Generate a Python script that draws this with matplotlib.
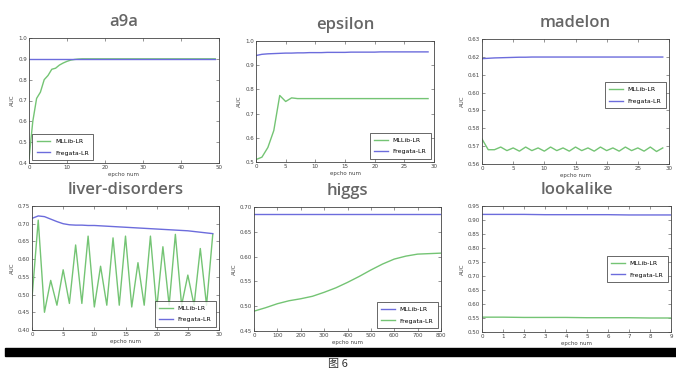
import numpy as np
import matplotlib.pyplot as plt

plt.rcParams['font.family'] = ['DejaVu Sans']

GREEN = '#74c474'
BLUE = '#6c6cdc'

# a9a
a9a_x = list(range(50))
a9a_mllib = [0.42, 0.60, 0.71, 0.74, 0.80, 0.82, 0.85, 0.855, 0.87, 0.88,
             0.888, 0.894, 0.897, 0.899] + [0.90] * 36
a9a_fregata = [0.90] * 50

# epsilon
eps_x = list(range(30))
eps_mllib = [0.51, 0.52, 0.56, 0.63, 0.775, 0.75, 0.765, 0.762] + [0.762] * 22
eps_fregata = [0.940, 0.945, 0.947, 0.948, 0.949, 0.950, 0.950, 0.951, 0.951, 0.952,
               0.952, 0.952, 0.953, 0.953, 0.953, 0.953, 0.954, 0.954, 0.954, 0.954,
               0.954, 0.955, 0.955, 0.955, 0.955, 0.955, 0.955, 0.955, 0.955, 0.955]

# madelon
mad_x = list(range(30))
mad_mllib = [0.574, 0.568, 0.568, 0.5695, 0.5675, 0.569, 0.5672, 0.5695, 0.5675, 0.569,
             0.5672, 0.5695, 0.5675, 0.569, 0.5672, 0.5695, 0.5675, 0.569, 0.5672, 0.5695,
             0.5675, 0.569, 0.5672, 0.5695, 0.5675, 0.569, 0.5672, 0.5695, 0.567, 0.569]
mad_fregata = [0.619, 0.6192, 0.6194, 0.6195, 0.6196, 0.6197, 0.6198, 0.6198, 0.6199, 0.6199] + [0.6199] * 20

# liver-disorders
liv_x = list(range(30))
liv_mllib = [0.49, 0.71, 0.45, 0.54, 0.47, 0.57, 0.475, 0.64, 0.475, 0.665,
             0.465, 0.58, 0.47, 0.66, 0.47, 0.665, 0.465, 0.59, 0.47, 0.665,
             0.46, 0.635, 0.47, 0.67, 0.47, 0.555, 0.47, 0.63, 0.47, 0.67]
liv_fregata = [0.715, 0.722, 0.72, 0.713, 0.706, 0.70, 0.697, 0.696, 0.696, 0.695,
               0.695, 0.694, 0.693, 0.692, 0.691, 0.690, 0.689, 0.688, 0.687, 0.686,
               0.685, 0.684, 0.683, 0.682, 0.681, 0.680, 0.678, 0.676, 0.674, 0.672]

# higgs
hig_x = list(range(0, 801, 50))
hig_mllib = [0.685] * len(hig_x)
hig_fregata = [0.49, 0.497, 0.505, 0.511, 0.515, 0.520, 0.528, 0.537, 0.548,
               0.560, 0.573, 0.585, 0.595, 0.601, 0.605, 0.606, 0.607]

# lookalike
look_x = list(range(10))
look_mllib = [0.553, 0.553, 0.552, 0.552, 0.552, 0.551, 0.551, 0.551, 0.550, 0.550]
look_fregata = [0.920, 0.920, 0.920, 0.919, 0.919, 0.919, 0.919, 0.918, 0.918, 0.918]

W, H = 676, 374
fig = plt.figure(figsize=(W / 100, H / 100), dpi=100)


def panel(box, title, x, mllib, fregata, xlim, ylim, yticks, yfmt, xticks, loc,
          mllib_color=GREEN, fregata_color=BLUE, bbox=None):
    x0, y0, x1, y1 = box
    ax = fig.add_axes([x0 / W, 1 - y1 / H, (x1 - x0) / W, (y1 - y0) / H])
    ax.plot(x, mllib, color=mllib_color, lw=1.0, label='MLLib-LR')
    ax.plot(x, fregata, color=fregata_color, lw=1.0, label='Fregata-LR')
    ax.set_xlim(*xlim)
    ax.set_ylim(*ylim)
    ax.set_yticks(yticks)
    ax.set_yticklabels([yfmt % v for v in yticks])
    ax.set_xticks(xticks)
    ax.tick_params(direction='in', length=2, width=0.4, labelsize=4, pad=1.5,
                   top=True, right=True, colors='#444444')
    for s in ax.spines.values():
        s.set_linewidth(0.6)
        s.set_color('#444444')
    ax.set_xlabel('epcho num', fontsize=4, labelpad=1.5, color='#444444')
    ax.set_ylabel('AUC', fontsize=4, labelpad=2, color='#444444')
    leg = ax.legend(loc=loc, fontsize=4.5, frameon=True, fancybox=False,
                    handlelength=2.2, borderpad=0.7, labelspacing=1.0,
                    bbox_to_anchor=bbox)
    leg.get_frame().set_edgecolor('#222222')
    leg.get_frame().set_linewidth(0.6)
    fig.text((x0 + x1) / 2 / W, 1 - (y0 - 16) / H, title, ha='center', va='center',
             fontsize=12, color='#666666', family='Open Sans', fontweight='semibold')
    return ax


panel((29, 38, 219, 163), 'a9a', a9a_x, a9a_mllib, a9a_fregata,
      (0, 50), (0.4, 1.0), np.arange(0.4, 1.01, 0.1), '%.1f', range(0, 51, 10), 'lower left')
panel((256, 41, 434, 162), 'epsilon', eps_x, eps_mllib, eps_fregata,
      (0, 30), (0.5, 1.0), np.arange(0.5, 1.01, 0.1), '%.1f', range(0, 31, 5), 'lower right')
panel((482, 39, 669, 164), 'madelon', mad_x, mad_mllib, mad_fregata,
      (0, 30), (0.56, 0.63), np.arange(0.56, 0.6301, 0.01), '%.2f', range(0, 31, 5), 'center right',
      bbox=(1.0, 0.55))
panel((32, 206, 219, 330), 'liver-disorders', liv_x, liv_mllib, liv_fregata,
      (0, 30), (0.40, 0.75), np.arange(0.40, 0.7501, 0.05), '%.2f', range(0, 31, 5), 'lower right')
panel((254, 207, 441, 331), 'higgs', hig_x, hig_mllib, hig_fregata,
      (0, 800), (0.45, 0.70), np.arange(0.45, 0.7001, 0.05), '%.2f', range(0, 801, 100), 'lower right',
      mllib_color=BLUE, fregata_color=GREEN)
panel((482, 206, 671, 332), 'lookalike', look_x, look_mllib, look_fregata,
      (0, 9), (0.50, 0.95), np.arange(0.50, 0.9501, 0.05), '%.2f', range(0, 10), 'center right',
      bbox=(1.0, 0.5))

# black separator bar and caption
fig.patches.append(plt.Rectangle((5 / W, 1 - 356 / H), 1 - 5 / W, 8 / H,
                                 transform=fig.transFigure, color='black', zorder=5))
fig.text(338 / W, 1 - 364 / H, '图 6', ha='center', va='center', fontsize=8,
         family=['Noto Sans CJK SC', 'DejaVu Sans'], color='#333333')

fig.savefig('out.png', dpi=100)
